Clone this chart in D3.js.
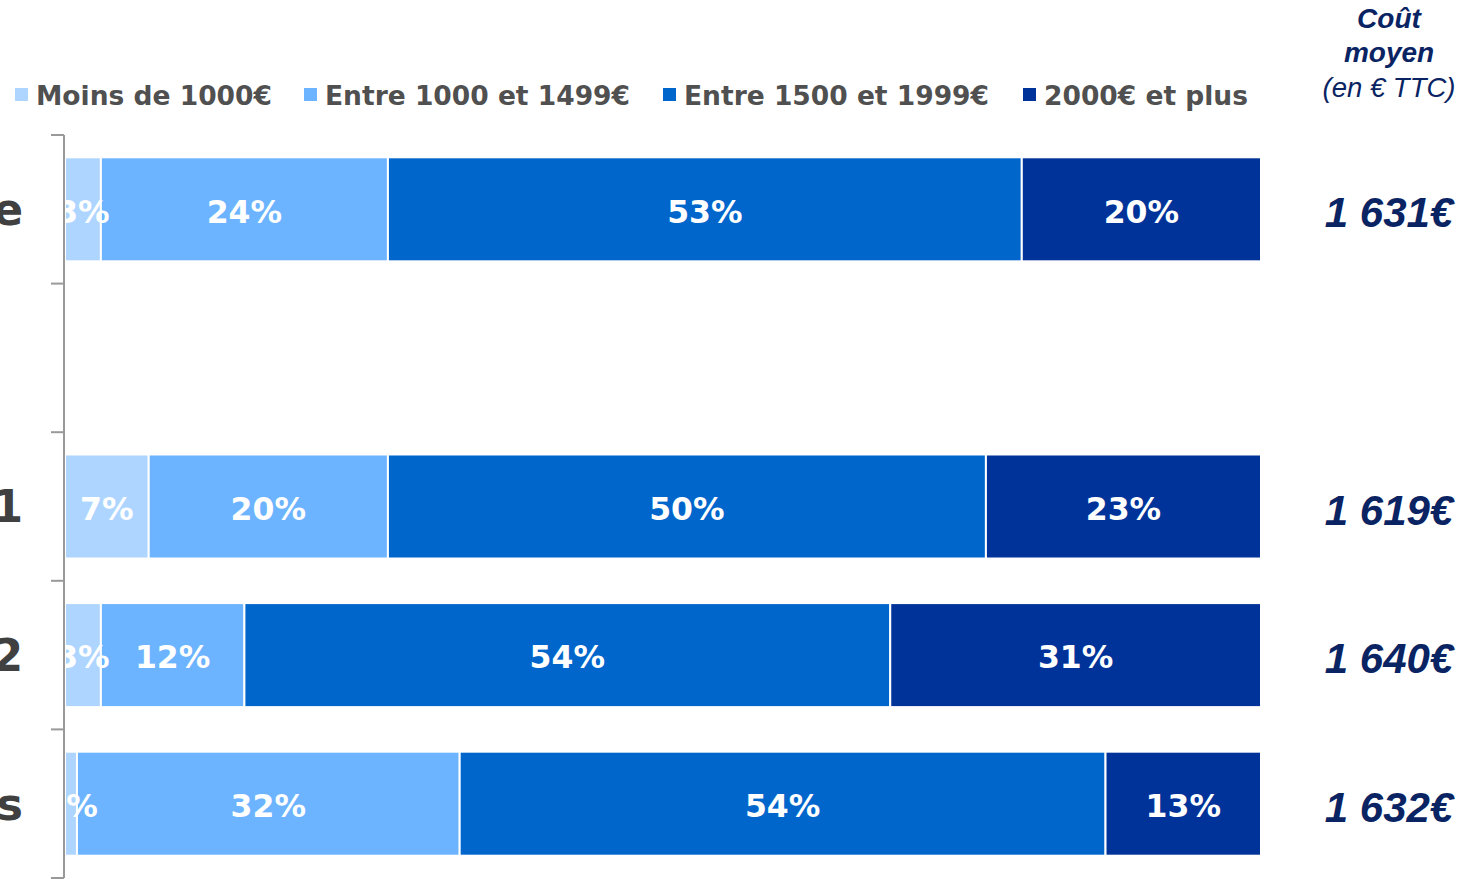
<!DOCTYPE html>
<html>
<head>
<meta charset="utf-8">
<script src="https://cdn.jsdelivr.net/npm/d3@7"></script>
<style>
  html, body { margin: 0; padding: 0; background: #fff; overflow: hidden; }
  svg { display: block; }
</style>
</head>
<body>
<svg id="chart" width="1470" height="879"></svg>
<script>
// Budget brackets, share of respondents per group (%)
const categories = ["Ensemble", "", "Segment 1", "Segment 2", "Autres segments"];
const seriesNames = ["Moins de 1000€", "Entre 1000 et 1499€", "Entre 1500 et 1999€", "2000€ et plus"];
const moinsDe1000 = [3, null, 7, 3, 1];
const entre1000et1499 = [24, null, 20, 12, 32];
const entre1500et1999 = [53, null, 50, 54, 54];
const plusDe2000 = [20, null, 23, 31, 13];
const coutMoyen = [1631, null, 1619, 1640, 1632];
const colors = ["#aed5ff", "#6cb4ff", "#0066cc", "#003399"];

const series = [moinsDe1000, entre1000et1499, entre1500et1999, plusDe2000];

const svg = d3.select("#chart");

const x = d3.scaleLinear().domain([0, 100]).range([65, 1261]);
const y = d3.scaleBand().domain(categories).range([135, 878]).paddingInner(0).paddingOuter(0);
const barInset = 0.15;

// Stack the four brackets for each non-empty row
const rows = categories.map((c, i) => {
  if (moinsDe1000[i] == null) return null;
  let acc = 0;
  const segs = series.map((s, k) => {
    const seg = { cat: c, k, v: s[i], x0: acc, x1: acc + s[i] };
    acc += s[i];
    return seg;
  });
  return { cat: c, i, segs };
}).filter(r => r);

const segs = rows.flatMap(r => r.segs);

const plot = svg.append("g");

plot.selectAll("rect.seg")
  .data(segs)
  .join("rect")
  .attr("class", "seg")
  .attr("x", d => x(d.x0))
  .attr("width", d => x(d.x1) - x(d.x0))
  .attr("y", d => y(d.cat) + y.bandwidth() * barInset)
  .attr("height", y.bandwidth() * (1 - 2 * barInset))
  .attr("fill", d => colors[d.k])
  .attr("stroke", "#ffffff")
  .attr("stroke-width", 2);

// Value labels, clipped at the axis
svg.append("defs").append("clipPath").attr("id", "plotClip")
  .append("rect").attr("x", 59).attr("y", 0).attr("width", 1470).attr("height", 879);

plot.append("g").attr("clip-path", "url(#plotClip)")
  .selectAll("text")
  .data(segs)
  .join("text")
  .attr("x", d => (x(d.x0) + x(d.x1)) / 2)
  .attr("y", d => y(d.cat) + y.bandwidth() / 2 + 2)
  .attr("dy", "0.36em")
  .attr("text-anchor", "middle")
  .attr("font-family", "'DejaVu Sans', Verdana, sans-serif")
  .attr("font-weight", "bold")
  .attr("font-size", 31.5)
  .attr("fill", "#ffffff")
  .text(d => d.v + "%");

// Category axis with ticks between bands
const axis = svg.append("g").attr("stroke", "#999999").attr("stroke-width", 2);
axis.append("line")
  .attr("x1", 64).attr("x2", 64)
  .attr("y1", y.range()[0]).attr("y2", y.range()[1]);
const bounds = categories.map(c => y(c)).concat([y.range()[1]]);
axis.selectAll("line.tick")
  .data(bounds)
  .join("line")
  .attr("class", "tick")
  .attr("x1", 51).attr("x2", 64)
  .attr("y1", d => d).attr("y2", d => d);

// Row names run off the left edge; only their endings stay in view
svg.append("g").selectAll("text")
  .data(categories.filter(c => c))
  .join("text")
  .attr("x", 23)
  .attr("y", d => y(d) + y.bandwidth() / 2)
  .attr("dy", "0.36em")
  .attr("text-anchor", "end")
  .attr("font-family", "'DejaVu Sans', Verdana, sans-serif")
  .attr("font-weight", "bold")
  .attr("font-size", 44)
  .attr("fill", "#404040")
  .text(d => d);

// Legend
const legendX = [15, 304, 663, 1023];
const legend = svg.append("g").selectAll("g")
  .data(seriesNames)
  .join("g")
  .attr("transform", (d, i) => `translate(${legendX[i]},95)`);
legend.append("rect")
  .attr("x", 0).attr("y", -7).attr("width", 13).attr("height", 13)
  .attr("fill", (d, i) => colors[i]);
legend.append("text")
  .attr("x", 21).attr("y", 0).attr("dy", "0.36em")
  .attr("font-family", "'DejaVu Sans', Verdana, sans-serif")
  .attr("font-weight", "bold")
  .attr("font-size", 26.5)
  .attr("fill", "#505050")
  .text(d => d);

// Average cost column
const navy = "#0a2463";
const head = svg.append("g").attr("font-family", "'Liberation Sans', Arial, sans-serif")
  .attr("text-anchor", "middle").attr("fill", navy).attr("font-style", "italic");
head.append("text").attr("x", 1389).attr("y", 28).attr("font-size", 28).attr("font-weight", "bold").text("Coût");
head.append("text").attr("x", 1389).attr("y", 62).attr("font-size", 28).attr("font-weight", "bold").text("moyen");
head.append("text").attr("x", 1389).attr("y", 97).attr("font-size", 27.5).text("(en € TTC)");

const fmt = v => d3.format(",")(v).replace(",", " ") + "€";
svg.append("g").selectAll("text")
  .data(categories.map((c, i) => ({ c, v: coutMoyen[i] })).filter(d => d.v != null))
  .join("text")
  .attr("x", 1389)
  .attr("y", d => y(d.c) + y.bandwidth() / 2 + 3)
  .attr("dy", "0.36em")
  .attr("text-anchor", "middle")
  .attr("font-family", "'Liberation Sans', Arial, sans-serif")
  .attr("font-weight", "bold")
  .attr("font-style", "italic")
  .attr("font-size", 42)
  .attr("fill", navy)
  .text(d => fmt(d.v));
</script>
</body>
</html>
